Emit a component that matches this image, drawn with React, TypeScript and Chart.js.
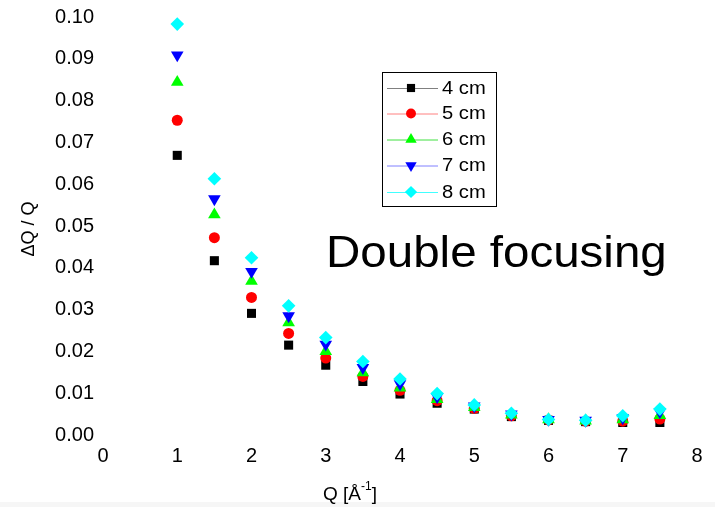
import React, { useEffect, useRef } from "react";
import { Chart, registerables } from "chart.js";

Chart.register(...registerables);

const qValues = [1, 1.5, 2, 2.5, 3, 3.5, 4, 4.5, 5, 5.5, 6, 6.5, 7, 7.5];
const seriesLabels = ["4 cm", "5 cm", "6 cm", "7 cm", "8 cm"];
const cm4 = [0.0669, 0.0417, 0.0291, 0.0215, 0.0167, 0.0128, 0.0098, 0.0076, 0.0062, 0.0044, 0.0035, 0.0032, 0.003, 0.003];
const cm5 = [0.0753, 0.0472, 0.0329, 0.0243, 0.0184, 0.014, 0.0107, 0.0082, 0.0064, 0.0046, 0.0036, 0.0033, 0.0033, 0.0038];
const cm6 = [0.0844, 0.0527, 0.0368, 0.0269, 0.02, 0.0149, 0.0113, 0.0085, 0.0066, 0.0048, 0.0037, 0.0034, 0.0037, 0.0047];
const cm7 = [0.0909, 0.0565, 0.0391, 0.0285, 0.0217, 0.0161, 0.0122, 0.0091, 0.0069, 0.005, 0.0037, 0.0035, 0.0041, 0.0055];
const cm8 = [0.0983, 0.0613, 0.0424, 0.0309, 0.0233, 0.0176, 0.0134, 0.0099, 0.0072, 0.0052, 0.0037, 0.0035, 0.0046, 0.0062];
const yTickValues = [0, 0.01, 0.02, 0.03, 0.04, 0.05, 0.06, 0.07, 0.08, 0.09, 0.1];
const xTickValues = [0, 1, 2, 3, 4, 5, 6, 7, 8];

const FONT = '"Liberation Sans", Arial, Helvetica, sans-serif';
const markerColors = ["#000000", "#ff0000", "#00ff00", "#0000ff", "#00ffff"];
const legendLineColors = ["#808080", "#ff8080", "#40e040", "#8080ff", "#40ffff"];
const markerStyles = ["rect", "circle", "triangle", "triangle", "rectRot"];
const markerRadius = [6.4, 5.5, 7.3, 7.3, 6.8];
const markerRotation = [0, 0, 0, 180, 0];

function drawMarker(ctx: CanvasRenderingContext2D, i: number, x: number, y: number, scale: number) {
  ctx.save();
  ctx.fillStyle = markerColors[i];
  ctx.beginPath();
  const r = markerRadius[i] * scale;
  if (i === 0) {
    const s = r * Math.SQRT1_2;
    ctx.rect(x - s, y - s, 2 * s, 2 * s);
  } else if (i === 1) {
    ctx.arc(x, y, r, 0, Math.PI * 2);
  } else if (i === 2 || i === 3) {
    const dir = i === 2 ? -1 : 1;
    ctx.moveTo(x, y + dir * r);
    ctx.lineTo(x + r * Math.sin((2 * Math.PI) / 3), y - dir * r * 0.5);
    ctx.lineTo(x - r * Math.sin((2 * Math.PI) / 3), y - dir * r * 0.5);
    ctx.closePath();
  } else {
    ctx.moveTo(x, y - r);
    ctx.lineTo(x + r, y);
    ctx.lineTo(x, y + r);
    ctx.lineTo(x - r, y);
    ctx.closePath();
  }
  ctx.fill();
  ctx.restore();
}

const decorPlugin = {
  id: "decor",
  beforeDraw(chart: any) {
    const ctx = chart.ctx as CanvasRenderingContext2D;
    ctx.save();
    ctx.fillStyle = "#ffffff";
    ctx.fillRect(0, 0, chart.width, chart.height);
    ctx.fillStyle = "#f6f6f6";
    ctx.fillRect(0, 502, chart.width, chart.height - 502);
    ctx.restore();
  },
  afterDraw(chart: any) {
    const ctx = chart.ctx as CanvasRenderingContext2D;
    const area = chart.chartArea;
    ctx.save();
    ctx.fillStyle = "#000";
    ctx.textBaseline = "middle";

    // Y axis title
    ctx.save();
    ctx.translate(29, (area.top + area.bottom) / 2 + 3);
    ctx.rotate(-Math.PI / 2);
    ctx.font = `18px ${FONT}`;
    ctx.textAlign = "center";
    ctx.fillText("\u0394Q / Q", 0, 0);
    ctx.restore();

    // X axis title with superscript
    ctx.save();
    const main = "Q [\u00C5";
    const close = "]";
    ctx.font = `19px ${FONT}`;
    const wMain = ctx.measureText(main).width;
    const wClose = ctx.measureText(close).width;
    ctx.font = `12px ${FONT}`;
    const wSup = ctx.measureText("-1").width;
    const total = wMain + wSup + wClose;
    const x0 = 350 - total / 2;
    const yBase = 495;
    ctx.textAlign = "left";
    ctx.font = `19px ${FONT}`;
    ctx.fillText(main, x0, yBase);
    ctx.font = `12px ${FONT}`;
    ctx.fillText("-1", x0 + wMain, yBase - 8);
    ctx.font = `19px ${FONT}`;
    ctx.fillText(close, x0 + wMain + wSup, yBase);
    ctx.restore();

    // Annotation
    ctx.save();
    ctx.font = `44px ${FONT}`;
    ctx.textAlign = "left";
    ctx.translate(326, 255);
    ctx.scale(1.08, 1);
    ctx.fillText("Double focusing", 0, 0);
    ctx.restore();

    // Legend
    const bx = 382, by = 72, bw = 114, bh = 134;
    ctx.save();
    ctx.strokeStyle = "#000";
    ctx.lineWidth = 1;
    ctx.strokeRect(bx + 0.5, by + 0.5, bw, bh);
    const rowY = [88, 113.5, 139.5, 165.5, 192];
    for (let i = 0; i < seriesLabels.length; i++) {
      const y = rowY[i];
      ctx.strokeStyle = legendLineColors[i];
      ctx.lineWidth = 1;
      ctx.beginPath();
      ctx.moveTo(387, y + 0.5);
      ctx.lineTo(438, y + 0.5);
      ctx.stroke();
      drawMarker(ctx, i, 411, y, 0.9);
      ctx.save();
      ctx.fillStyle = "#000";
      ctx.font = `18px ${FONT}`;
      ctx.textAlign = "left";
      ctx.translate(442, y + 1);
      ctx.scale(1.12, 1);
      ctx.fillText(seriesLabels[i], 0, 0);
      ctx.restore();
    }
    ctx.restore();

    ctx.restore();
  },
};

export default function App() {
  const canvasRef = useRef<HTMLCanvasElement | null>(null);

  useEffect(() => {
    document.body.style.margin = "0";
    const canvas = canvasRef.current;
    if (!canvas) return;
    const seriesValues = [cm4, cm5, cm6, cm7, cm8];
    const datasets = seriesValues.map((vals, i) => ({
      label: seriesLabels[i],
      data: qValues.map((q, j) => ({ x: q, y: vals[j] })),
      showLine: false,
      pointStyle: markerStyles[i],
      pointRadius: markerRadius[i],
      pointHoverRadius: markerRadius[i],
      pointRotation: markerRotation[i],
      pointBackgroundColor: markerColors[i],
      pointBorderColor: markerColors[i],
      pointBorderWidth: 0,
      order: 5 - i,
    }));

    const chart = new Chart(canvas, {
      type: "scatter",
      data: { datasets },
      plugins: [decorPlugin],
      options: {
        animation: false,
        responsive: false,
        maintainAspectRatio: false,
        devicePixelRatio: 1,
        layout: { padding: { top: 17, right: 18, left: 0, bottom: 0 } },
        plugins: {
          legend: { display: false },
          tooltip: { enabled: false },
          title: { display: false },
        },
        scales: {
          x: {
            type: "linear",
            min: 0,
            max: 8,
            border: { display: false },
            grid: { display: false, drawTicks: false },
            afterBuildTicks: (scale: any) => {
              scale.ticks = xTickValues.map((v) => ({ value: v }));
            },
            afterFit: (scale: any) => {
              scale.height = 72;
            },
            ticks: {
              color: "#000",
              font: { family: FONT, size: 20 },
              padding: 9,
              maxRotation: 0,
              autoSkip: false,
              callback: (v: any) => String(v),
            },
          },
          y: {
            type: "linear",
            min: 0,
            max: 0.1,
            border: { display: false },
            grid: { display: false, drawTicks: false },
            afterBuildTicks: (scale: any) => {
              scale.ticks = yTickValues.map((v) => ({ value: v }));
            },
            afterFit: (scale: any) => {
              scale.width = 103;
            },
            ticks: {
              color: "#000",
              font: { family: FONT, size: 20, lineHeight: 0.8 },
              padding: 9,
              autoSkip: false,
              callback: (v: any) => Number(v).toFixed(2),
            },
          },
        },
      },
    });
    return () => chart.destroy();
  }, []);

  return (
    <div style={{ width: 715, height: 507, position: "relative" }}>
      <canvas ref={canvasRef} width={715} height={507} style={{ display: "block", width: 715, height: 507 }} />
    </div>
  );
}
